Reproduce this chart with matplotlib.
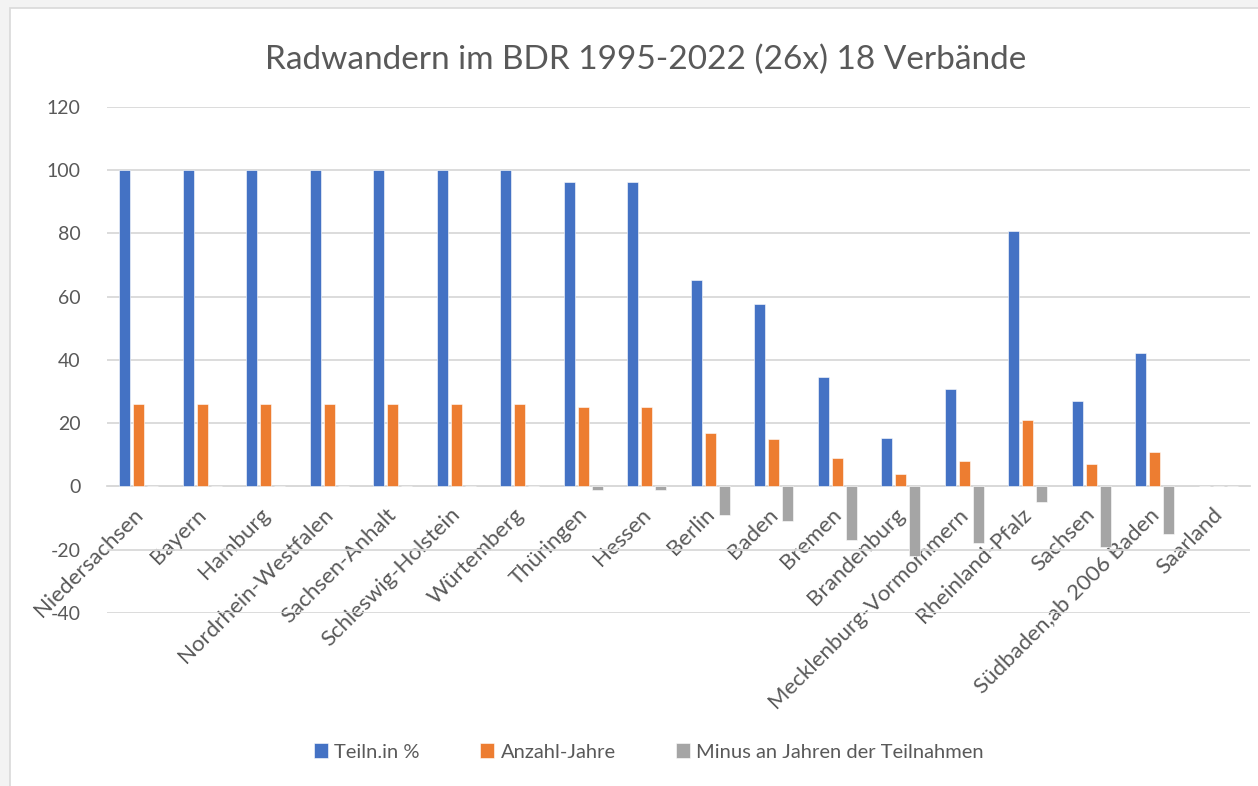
import numpy as np
import matplotlib
matplotlib.use("Agg")
from matplotlib import pyplot as plt
from matplotlib.patches import Rectangle
from matplotlib.transforms import ScaledTranslation

plt.rcParams['font.family'] = ['Lato', 'DejaVu Sans']
plt.rcParams['axes.unicode_minus'] = False

verbaende = ['Niedersachsen', 'Bayern', 'Hamburg', 'Nordrhein-Westfalen', 'Sachsen-Anhalt',
             'Schleswig-Holstein', 'Würtemberg', 'Thüringen', 'Hessen', 'Berlin', 'Baden',
             'Bremen', 'Brandenburg', 'Mecklenburg-Vormommern', 'Rheinland-Pfalz', 'Sachsen',
             'Südbaden,ab 2006 Baden', 'Saarland']
teiln_prozent = [100, 100, 100, 100, 100, 100, 100, 96.2, 96.2, 65.4, 57.7,
                 34.6, 15.4, 30.8, 80.8, 26.9, 42.3, 0]
anzahl_jahre = [26, 26, 26, 26, 26, 26, 26, 25, 25, 17, 15, 9, 4, 8, 21, 7, 11, 0]
minus_jahre = [0, 0, 0, 0, 0, 0, 0, -1, -1, -9, -11, -17, -22, -18, -5, -19, -15, 0]
serien = ['Teiln.in %', 'Anzahl-Jahre', 'Minus an Jahren der Teilnahmen']
farben = ['#4472C4', '#ED7D31', '#A5A5A5']

W, H = 1258, 786
fig = plt.figure(figsize=(W / 100, H / 100), dpi=100, facecolor='#f3f3f3')

# chart frame (Excel-like), behind the axes
fig.patches.append(Rectangle((10 / W, -0.01), 1.0, 1 - 8 / H + 0.01, transform=fig.transFigure,
                             facecolor='white', edgecolor='#d9d9d9', linewidth=1.2, zorder=-5))

ax = fig.add_axes([107 / W, 1 - 613 / H, (1250 - 107) / W, (613 - 107) / H])
ax.set_facecolor('white')

x = np.arange(len(verbaende))
b = 0.175
for off, werte, farbe, name in zip([-0.22, 0, 0.22], [teiln_prozent, anzahl_jahre, minus_jahre],
                                   farben, serien):
    ax.bar(x + off, werte, width=b, color=farbe, edgecolor='white', linewidth=0.4, label=name, zorder=3)

ax.set_xlim(-0.5, len(verbaende) - 0.5)
ax.set_ylim(-40, 120)
ax.set_yticks(range(-40, 121, 20))
ax.grid(axis='y', color='#d9d9d9', linewidth=1.3, zorder=0)
ax.set_axisbelow(True)
for s in ['top', 'right', 'left']:
    ax.spines[s].set_visible(False)
ax.spines['bottom'].set_position(('data', 0))
ax.spines['bottom'].set_color('#d9d9d9')
ax.spines['bottom'].set_linewidth(1.3)

ax.tick_params(axis='y', length=0, pad=19, labelsize=14, labelcolor='#595959')
ax.tick_params(axis='x', length=0, pad=21, labelsize=16, labelcolor='#595959')
ax.set_xticks(x)
ax.set_xticklabels(verbaende, rotation=45, ha='right', va='baseline', rotation_mode='anchor')
shift = ScaledTranslation(5 / 100, 0, fig.dpi_scale_trans)
for lab in ax.get_xticklabels():
    lab.set_transform(lab.get_transform() + shift)

fig.text(646 / W, 1 - 60 / H, 'Radwandern im BDR 1995-2022 (26x) 18 Verbände',
         ha='center', va='center', fontsize=24, color='#595959')

fig.legend(loc='center', bbox_to_anchor=(649 / W, 1 - 752 / H), ncol=3, frameon=False,
           fontsize=14.5, handlelength=0.7, handleheight=0.7, handletextpad=0.3,
           columnspacing=3.0, labelcolor='#595959')

fig.savefig('out.png', dpi=100, facecolor=fig.get_facecolor())
